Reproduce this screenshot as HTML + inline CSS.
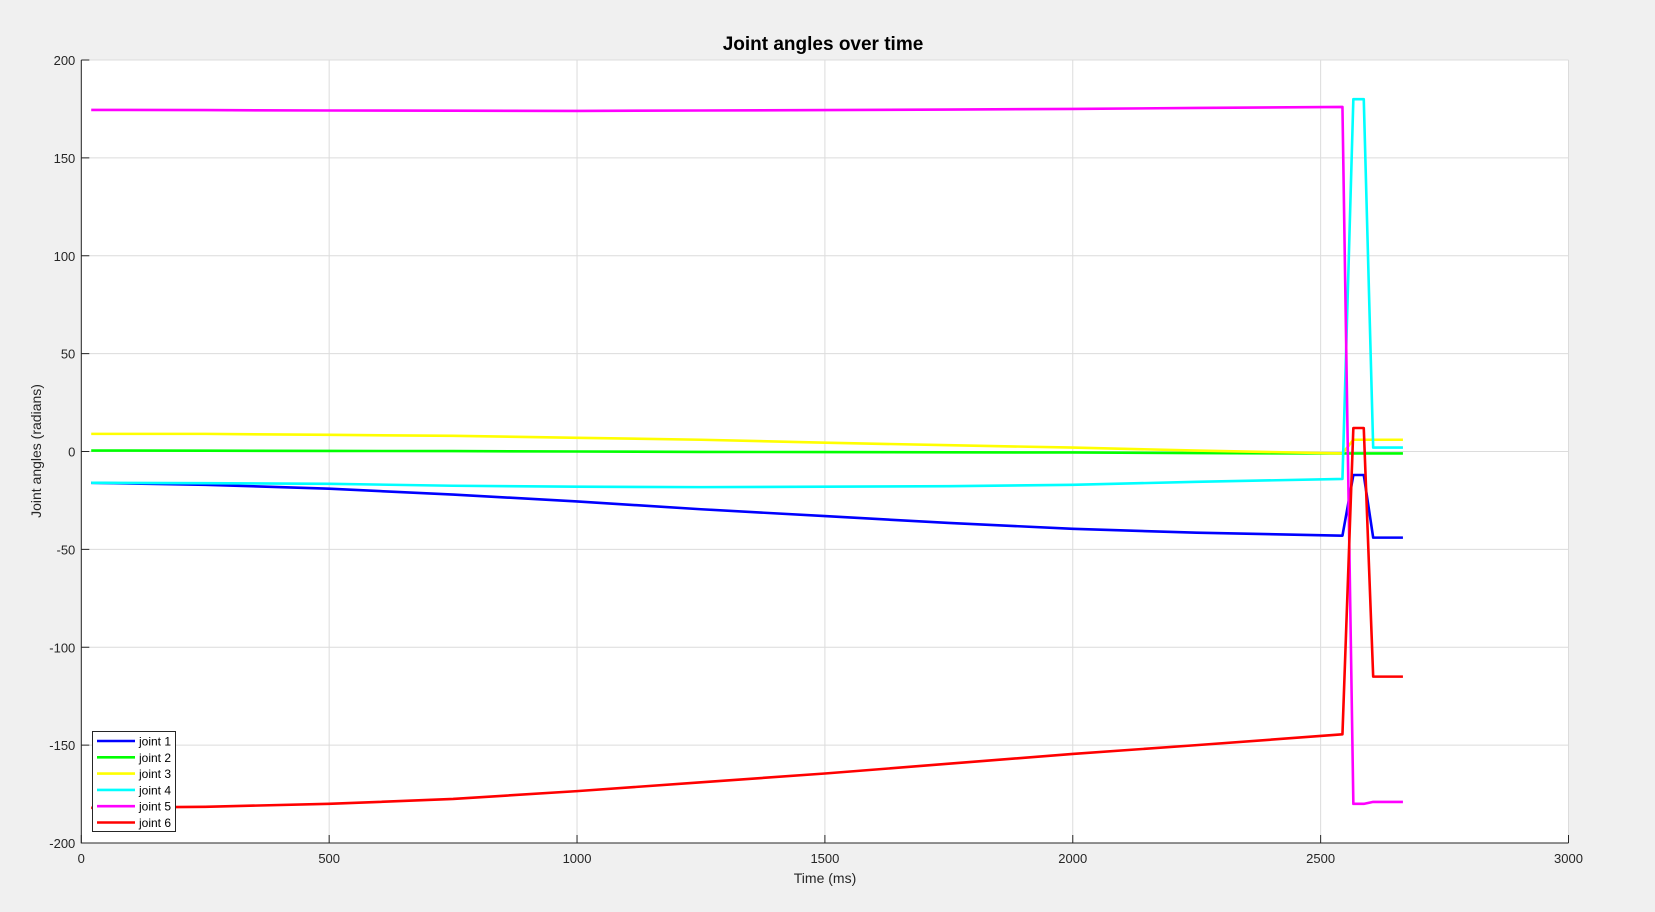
<!DOCTYPE html>
<html><head><meta charset="utf-8"><style>
html,body{margin:0;padding:0;background:#f0f0f0;}
svg{display:block;font-family:"Liberation Sans",Arial,sans-serif;}
</style></head><body>
<svg id="chart" width="1655" height="912">
<rect x="0" y="0" width="1655" height="912" fill="#f0f0f0"/>
<g id="plot"></g>
</svg>
<script>
const times=[20,250,500,750,1000,1250,1500,1750,2000,2250,2544,2566,2587,2606,2666];
const joint1=[-16,-17,-19,-22,-25.5,-29.5,-33,-36.5,-39.5,-41.5,-43,-12,-12,-44,-44];
const joint2=[0.5,0.4,0.3,0.2,0,-0.2,-0.3,-0.4,-0.5,-0.8,-1,-1,-1,-1,-1];
const joint3=[9,9,8.5,8,7,6,4.5,3.2,2,0.5,-1,6,6,6,6];
const joint4=[-16,-16.2,-16.5,-17.5,-18,-18.2,-18,-17.7,-17,-15.5,-14,180,180,2,2];
const joint5=[174.5,174.4,174.2,174.1,174,174.2,174.4,174.7,175,175.5,176,-180,-180,-179,-179];
const joint6=[-182,-181.5,-180,-177.5,-173.5,-169,-164.5,-159.5,-154.5,-150,-144.5,12,12,-115,-115];
const xTicks=[0,500,1000,1500,2000,2500,3000];
const yTicks=[-200,-150,-100,-50,0,50,100,150,200];
const seriesNames=["joint 1","joint 2","joint 3","joint 4","joint 5","joint 6"];
const seriesData=[joint1,joint2,joint3,joint4,joint5,joint6];
const colors=["#0000ff","#00ff00","#ffff00","#00ffff","#ff00ff","#ff0000"];

const L=81.3,R=1568.5,T=60,B=843;
const xs=v=>L+(v-0)/3000*(R-L);
const ys=v=>B-(v+200)/400*(B-T);
const NS="http://www.w3.org/2000/svg";
const g=document.getElementById('plot');
function mk(tag,attrs,parent){const e=document.createElementNS(NS,tag);for(const k in attrs)e.setAttribute(k,attrs[k]);(parent||g).appendChild(e);return e;}

const bg=mk('rect',{x:L,y:T,width:R-L,height:B-T,fill:'#fff'});


xTicks.forEach(t=>{
 const l=mk('line',{x1:xs(t),x2:xs(t),y1:T,y2:B,stroke:'#dcdcdc','stroke-width':1});
 
 
 mk('line',{x1:xs(t),x2:xs(t),y1:B,y2:B-8,stroke:'#262626'});
 const tx=mk('text',{x:xs(t),y:B+20,'text-anchor':'middle','font-size':13,fill:'#262626'});
 tx.textContent=t;
 
 
});
yTicks.forEach(t=>{
 const l=mk('line',{x1:L,x2:R,y1:ys(t),y2:ys(t),stroke:'#dcdcdc','stroke-width':1});
 
 
 mk('line',{x1:L,x2:L+8,y1:ys(t),y2:ys(t),stroke:'#262626'});
 const tx=mk('text',{x:L-6,y:ys(t)+5,'text-anchor':'end','font-size':13,fill:'#262626'});
 tx.textContent=t;
 
 
});
const ax=mk('path',{d:`M${L},${T}V${B}H${R}`,fill:'none',stroke:'#262626','stroke-width':1});



seriesData.forEach((d,i)=>{
 const p=mk('polyline',{points:d.map((v,j)=>xs(times[j])+','+ys(v)).join(' '),fill:'none',stroke:colors[i],'stroke-width':2.6,'stroke-linejoin':'round'});
 
 
});

const t1=mk('text',{x:823,y:50,'text-anchor':'middle','font-size':19,'font-weight':'bold',fill:'#000'});
t1.textContent='Joint angles over time';


const xl=mk('text',{x:825,y:883,'text-anchor':'middle','font-size':14,fill:'#262626'});
xl.textContent='Time (ms)';


const yl=mk('text',{x:0,y:0,'text-anchor':'middle','font-size':14,fill:'#262626',transform:'translate(41,451) rotate(-90)'});
yl.textContent='Joint angles (radians)';



const lg=mk('g',{});


mk('rect',{x:92.5,y:731.5,width:83,height:100,fill:'#fff',stroke:'#262626','stroke-width':1},lg);
seriesNames.forEach((n,i)=>{
 const y=741+i*16.3;
 const e=mk('g',{},lg);
 
 
 mk('line',{x1:97,x2:135,y1:y,y2:y,stroke:colors[i],'stroke-width':2.6},e);
 const tx=mk('text',{x:139,y:y+4.5,'font-size':12,fill:'#000'},e);
 tx.textContent=n;
});
</script>
</body></html>
